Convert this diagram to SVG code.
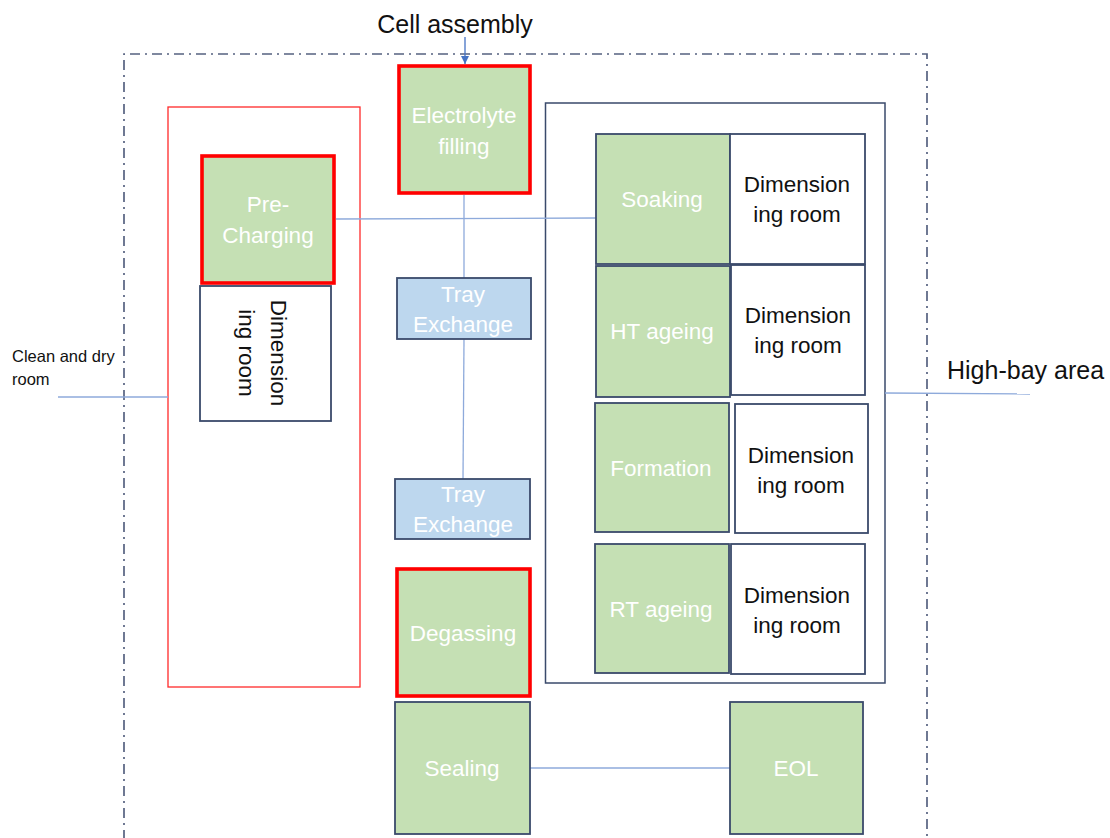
<svg xmlns="http://www.w3.org/2000/svg" width="1110" height="838" viewBox="0 0 1110 838">
  <defs>
    <style>
      .stage { fill: #C5E0B4; stroke: #3A4A6B; stroke-width: 1.8; }
      .key { fill: #C5E0B4; stroke: #FF0000; stroke-width: 3.6; }
      .tray { fill: #BDD7EE; stroke: #3A4A6B; stroke-width: 1.8; }
      .room { fill: #FFFFFF; stroke: #3A4A6B; stroke-width: 1.8; }
      .zone { fill: none; stroke: #3A4A6B; stroke-width: 1.5; }
      .zone-red { fill: none; stroke: #FF2A2A; stroke-width: 1.3; }
      .boundary { fill: none; stroke: #566280; stroke-width: 1.7; stroke-dasharray: 10 5 2 5; }
      .link { fill: none; stroke: #8EAADB; stroke-width: 1.3; }
      .feed { fill: none; stroke: #4472C4; stroke-width: 1.3; }
      .lbl { font-family: "Liberation Sans", Arial, sans-serif; font-size: 22.5px; text-anchor: middle; }
      .w { fill: #FFFFFF; }
      .d { fill: #111111; }
      .note { font-family: "Liberation Sans", Arial, sans-serif; fill: #111111; }
    </style>
    <marker id="head" viewBox="0 0 10 10" refX="10" refY="5" markerUnits="userSpaceOnUse" markerWidth="8" markerHeight="9" orient="auto">
      <path d="M0,0 L10,5 L0,10 z" fill="#4472C4"/>
    </marker>
  </defs>

  <rect width="1110" height="838" fill="#FFFFFF"/>

  <!-- plant boundary (open at the bottom) -->
  <path class="boundary" d="M124,840 V54 H927 V840"/>

  <!-- zones -->
  <rect id="dry-room-zone" class="zone-red" x="168" y="107" width="192" height="580"/>
  <rect id="high-bay-zone" class="zone" x="545.5" y="103" width="339.5" height="580"/>

  <!-- outside labels -->
  <text class="note" x="455" y="33" font-size="25" text-anchor="middle">Cell assembly</text>
  <text class="note" x="12" y="362" font-size="16.5">Clean and dry</text>
  <text class="note" x="12" y="385" font-size="16.5">room</text>
  <text class="note" x="947" y="379" font-size="25">High-bay area</text>

  <!-- connectors -->
  <g id="connectors">
    <line class="feed" x1="465" y1="37" x2="465" y2="64" marker-end="url(#head)"/>
    <line class="link" x1="464" y1="195" x2="464" y2="278"/>
    <line class="link" x1="464" y1="339" x2="463" y2="479"/>
    <line class="link" x1="336" y1="219" x2="596" y2="218"/>
    <line class="link" x1="58" y1="397" x2="168" y2="397"/>
    <line class="link" x1="885" y1="393" x2="1030" y2="394"/>
    <line class="link" x1="530" y1="768" x2="730" y2="768"/>
  </g>

  <!-- nodes -->
  <g id="electrolyte-filling">
    <rect class="key" x="399" y="66" width="131" height="127"/>
    <text class="lbl w" x="464" y="123">Electrolyte</text>
    <text class="lbl w" x="464" y="154">filling</text>
  </g>

  <g id="pre-charging">
    <rect class="key" x="202" y="156" width="132" height="127"/>
    <text class="lbl w" x="268" y="212">Pre-</text>
    <text class="lbl w" x="268" y="243">Charging</text>
  </g>

  <g id="dimension-room-dry">
    <rect class="room" x="200" y="286" width="131" height="135"/>
    <g transform="translate(263,353) rotate(90)">
      <text class="lbl d" x="0" y="-8">Dimension</text>
      <text class="lbl d" x="0" y="24">ing room</text>
    </g>
  </g>

  <g id="tray-exchange-1">
    <rect class="tray" x="397" y="278" width="134" height="61"/>
    <text class="lbl w" x="463" y="302">Tray</text>
    <text class="lbl w" x="463" y="332">Exchange</text>
  </g>

  <g id="tray-exchange-2">
    <rect class="tray" x="395" y="479" width="135" height="60"/>
    <text class="lbl w" x="463" y="502">Tray</text>
    <text class="lbl w" x="463" y="532">Exchange</text>
  </g>

  <g id="degassing">
    <rect class="key" x="397" y="569" width="133" height="127"/>
    <text class="lbl w" x="463" y="641">Degassing</text>
  </g>

  <g id="sealing">
    <rect class="stage" x="395" y="702" width="135" height="132"/>
    <text class="lbl w" x="462" y="776">Sealing</text>
  </g>

  <g id="eol">
    <rect class="stage" x="730" y="702" width="133" height="132"/>
    <text class="lbl w" x="796" y="776">EOL</text>
  </g>

  <g id="soaking">
    <rect class="stage" x="596" y="134" width="134" height="130"/>
    <text class="lbl w" x="662" y="207">Soaking</text>
  </g>
  <g id="dimension-room-1">
    <rect class="room" x="730" y="134" width="135" height="130"/>
    <text class="lbl d" x="797" y="192">Dimension</text>
    <text class="lbl d" x="797" y="222">ing room</text>
  </g>

  <g id="ht-ageing">
    <rect class="stage" x="596" y="266" width="134" height="131"/>
    <text class="lbl w" x="662" y="339">HT ageing</text>
  </g>
  <g id="dimension-room-2">
    <rect class="room" x="731" y="265" width="134" height="130"/>
    <text class="lbl d" x="798" y="323">Dimension</text>
    <text class="lbl d" x="798" y="353">ing room</text>
  </g>

  <g id="formation">
    <rect class="stage" x="595" y="403" width="134" height="129"/>
    <text class="lbl w" x="661" y="476">Formation</text>
  </g>
  <g id="dimension-room-3">
    <rect class="room" x="735" y="404" width="133" height="129"/>
    <text class="lbl d" x="801" y="463">Dimension</text>
    <text class="lbl d" x="801" y="493">ing room</text>
  </g>

  <g id="rt-ageing">
    <rect class="stage" x="595" y="544" width="134" height="129"/>
    <text class="lbl w" x="661" y="617">RT ageing</text>
  </g>
  <g id="dimension-room-4">
    <rect class="room" x="731" y="544" width="134" height="130"/>
    <text class="lbl d" x="797" y="603">Dimension</text>
    <text class="lbl d" x="797" y="633">ing room</text>
  </g>
</svg>
